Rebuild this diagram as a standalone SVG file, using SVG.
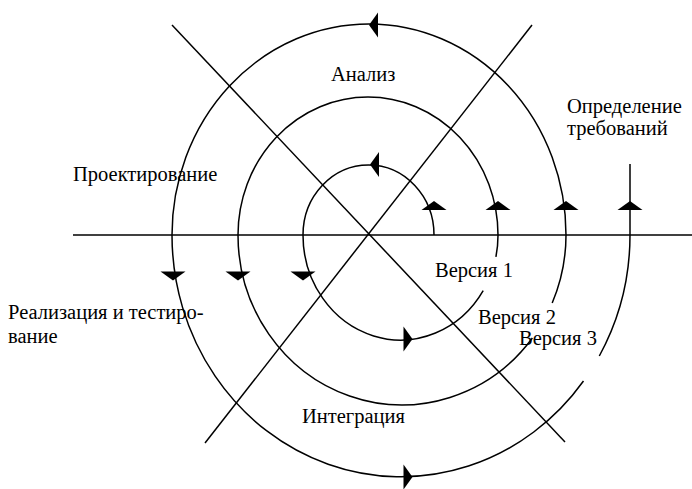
<svg xmlns="http://www.w3.org/2000/svg" xmlns:xlink="http://www.w3.org/1999/xlink" width="692" height="489" viewBox="0 0 692 489">
<style>
.ln{fill:none;stroke:#000;stroke-width:1.5}
.ah{fill:#000;stroke:none}
text{font-family:"Liberation Serif","Times New Roman",serif;font-size:20.5px;fill:#000}
</style>
<defs>
<path id="ah" class="ah" d="M0,-4.5 L12.5,4.5 L-12.5,4.5 Z"/>
</defs>
<rect width="692" height="489" fill="#fff"/>
<g id="connectors">
<line class="ln" x1="73" y1="235" x2="692" y2="235"/>
<line class="ln" x1="172" y1="25" x2="565" y2="442"/>
<line class="ln" x1="532" y1="25" x2="205" y2="443"/>
<path class="ln" d="M434,235 A65.5,70 0 0 0 303,235 A97.5,105 0 0 0 483.2,290.6"/>
<path class="ln" d="M495.9,256.8 A97.5,105 0 0 0 498,235 A130,138 0 0 0 238,235 A164,170 0 0 0 532.4,338"/>
<path class="ln" d="M552.2,303 A164,170 0 0 0 566,235 A197,211 0 0 0 172,235 A229,242 0 0 0 583.5,381"/>
<path class="ln" d="M599.3,356 A229,242 0 0 0 630,235 L630,164"/>
<use xlink:href="#ah" transform="translate(434,205.5)"/>
<use xlink:href="#ah" transform="translate(498,205.5)"/>
<use xlink:href="#ah" transform="translate(566,205.5)"/>
<use xlink:href="#ah" transform="translate(630,205.5)"/>
<use xlink:href="#ah" transform="translate(173,276) rotate(180)"/>
<use xlink:href="#ah" transform="translate(238,276) rotate(180)"/>
<use xlink:href="#ah" transform="translate(303,276) rotate(180)"/>
<use xlink:href="#ah" transform="translate(374.5,164.5) rotate(-90)"/>
<use xlink:href="#ah" transform="translate(373.5,25) rotate(-90)"/>
<use xlink:href="#ah" transform="translate(408,339) rotate(90)"/>
<use xlink:href="#ah" transform="translate(408,477) rotate(90)"/>
</g>
<g id="analiz"><text x="331" y="81">Анализ</text></g>
<g id="opredelenie"><text x="567" y="113">Определение</text><text x="567" y="135">требований</text></g>
<g id="proektirovanie"><text x="73" y="181">Проектирование</text></g>
<g id="realizaciya"><text x="8" y="319">Реализация и тестиро-</text><text x="8" y="343">вание</text></g>
<g id="integraciya"><text x="302" y="423">Интеграция</text></g>
<g id="versiya1"><text x="435" y="277">Версия 1</text></g>
<g id="versiya2"><text x="478" y="324">Версия 2</text></g>
<g id="versiya3"><text x="519" y="345">Версия 3</text></g>
</svg>
